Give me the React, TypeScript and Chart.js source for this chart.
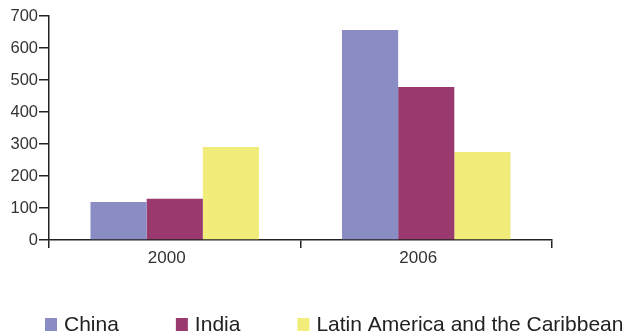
import React, { useEffect, useRef } from "react";
import { Chart, registerables } from "chart.js";

Chart.register(...registerables);

const categories = ["2000", "2006"];
const seriesNames = ["China", "India", "Latin America and the Caribbean"];
const chinaValues = [119, 656];
const indiaValues = [129, 478];
const latinValues = [291, 275];
const seriesColors = ["#8a8cc4", "#99396e", "#f2ec7b"];
const yTicks = [0, 100, 200, 300, 400, 500, 600, 700];

const FONT = "'Liberation Sans', Arial, Helvetica, sans-serif";

const legendPlugin = {
  id: "customLegend",
  afterDraw(chart: any) {
    const ctx = chart.ctx;
    ctx.save();
    ctx.font = `21px ${FONT}`;
    ctx.textBaseline = "middle";
    ctx.textAlign = "left";
    let x = 45;
    const y = 325;
    chart.data.datasets.forEach((ds: any) => {
      ctx.fillStyle = ds.backgroundColor;
      ctx.fillRect(x, y - 7, 12, 13);
      const tx = x + 19;
      ctx.fillStyle = "#222";
      ctx.fillText(ds.label, tx, y);
      const w = ctx.measureText(ds.label).width;
      x = tx + w + 57;
    });
    ctx.restore();
  },
};

export default function App() {
  const ref = useRef<HTMLCanvasElement | null>(null);
  useEffect(() => {
    if (!ref.current) return;
    const values = [chinaValues, indiaValues, latinValues];
    const chart = new Chart(ref.current, {
      type: "bar",
      data: {
        labels: categories,
        datasets: seriesNames.map((name, i) => ({
          label: name,
          data: values[i],
          backgroundColor: seriesColors[i],
          borderWidth: 0,
          categoryPercentage: 0.67,
          barPercentage: 1,
        })),
      },
      options: {
        animation: false,
        responsive: false,
        maintainAspectRatio: false,
        layout: { padding: { top: 16, right: 74, bottom: 66, left: 0 } },
        plugins: {
          legend: { display: false },
          tooltip: { enabled: false },
        },
        scales: {
          x: {
            grid: {
              offset: true,
              drawOnChartArea: false,
              drawTicks: true,
              tickLength: 8,
              color: "#222",
              lineWidth: 1.5,
            },
            border: { display: true, color: "#222", width: 1.5 },
            ticks: {
              font: { family: FONT, size: 17 },
              color: "#333",
              padding: 0,
              labelOffset: -8,
            },
            afterFit: (s: any) => {
              s.height = 30;
            },
          },
          y: {
            min: 0,
            max: 700,
            afterBuildTicks: (s: any) => {
              s.ticks = yTicks.map((v) => ({ value: v }));
            },
            grid: {
              drawOnChartArea: false,
              drawTicks: true,
              tickLength: 10,
              color: "#222",
              lineWidth: 1.5,
            },
            border: { display: true, color: "#222", width: 1.5 },
            ticks: {
              font: { family: FONT, size: 16.5 },
              color: "#333",
              padding: 1,
            },
            afterFit: (s: any) => {
              s.width = 49;
            },
          },
        },
      },
      plugins: [legendPlugin],
    });
    return () => chart.destroy();
  }, []);
  return (
    <div style={{ position: "absolute", left: 0, top: 0, width: 626, height: 336, background: "#fff" }}>
      <canvas ref={ref} width={626} height={336} style={{ display: "block" }} />
    </div>
  );
}
